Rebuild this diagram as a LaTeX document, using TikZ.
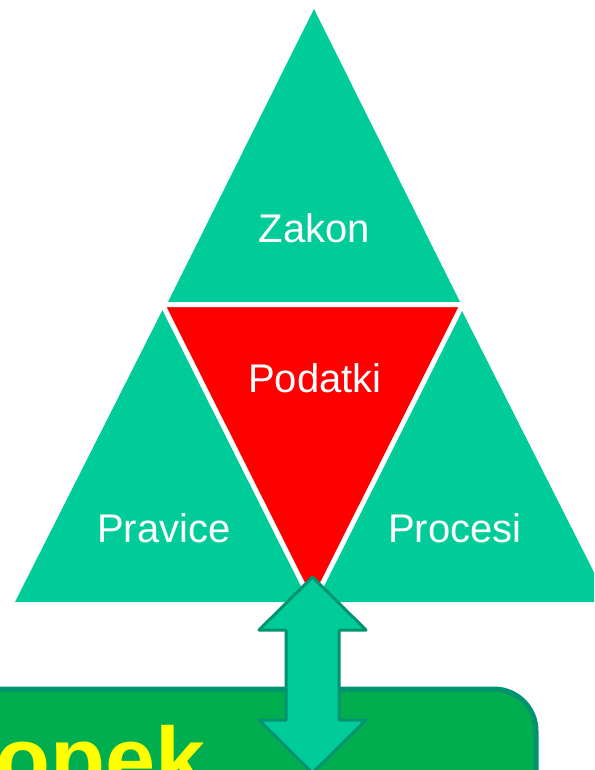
\documentclass[tikz,border=0pt]{standalone}
\usepackage{fontspec}
\setmainfont{Liberation Sans}
\definecolor{tri}{HTML}{00CC99}
\definecolor{redtri}{HTML}{FF0000}
\definecolor{darkteal}{HTML}{00936F}
\definecolor{boxgreen}{HTML}{00AE50}
\definecolor{txtyellow}{HTML}{FFFF00}
\tikzset{
  greentri/.style={fill=tri, draw=none},
  centretri/.style={fill=redtri, draw=white, line width=5pt, line join=miter},
  lbl/.style={text=white, anchor=base, inner sep=0pt, font=\fontsize{40}{48}\selectfont},
  arrowshape/.style={fill=tri, draw=darkteal, line width=3pt, line join=round},
  bottombox/.style={fill=boxgreen, draw=darkteal, line width=5pt, rounded corners=42pt},
  bigtext/.style={text=txtyellow, anchor=base east, inner sep=0pt, font=\fontsize{90}{100}\selectfont\bfseries}
}
\begin{document}
\begin{tikzpicture}[x=1pt,y=-1pt]
\useasboundingbox (0,0) rectangle (594,770);
\clip (0,0) rectangle (594,770);
% triangles
\draw[greentri] (314,9) -- (168,302) -- (460,302) -- cycle;
\draw[greentri] (163,309) -- (15,602) -- (311,602) -- cycle;
\draw[greentri] (461,309) -- (313,602) -- (609,602) -- cycle;
\draw[centretri] (162.5,304.5) -- (462.5,304.5) -- (312.5,603.5) -- cycle;
% labels
\node[lbl] (zakon) at (314.5,242) {Zakon};
\node[lbl] (podatki) at (315,392) {Podatki};
\node[lbl] (pravice) at (164,542) {Pravice};
\node[lbl] (procesi) at (455,542) {Procesi};
% bottom box
\draw[bottombox] (-40,689) rectangle (536,830);
\node[bigtext] (opek) at (206,790) {opek};
% double arrow
\draw[arrowshape] (312.5,577) -- (366,630) -- (339,630) -- (339,720) -- (366,720)
  -- (312.5,773) -- (259,720) -- (286,720) -- (286,630) -- (259,630) -- cycle;
\end{tikzpicture}
\end{document}
